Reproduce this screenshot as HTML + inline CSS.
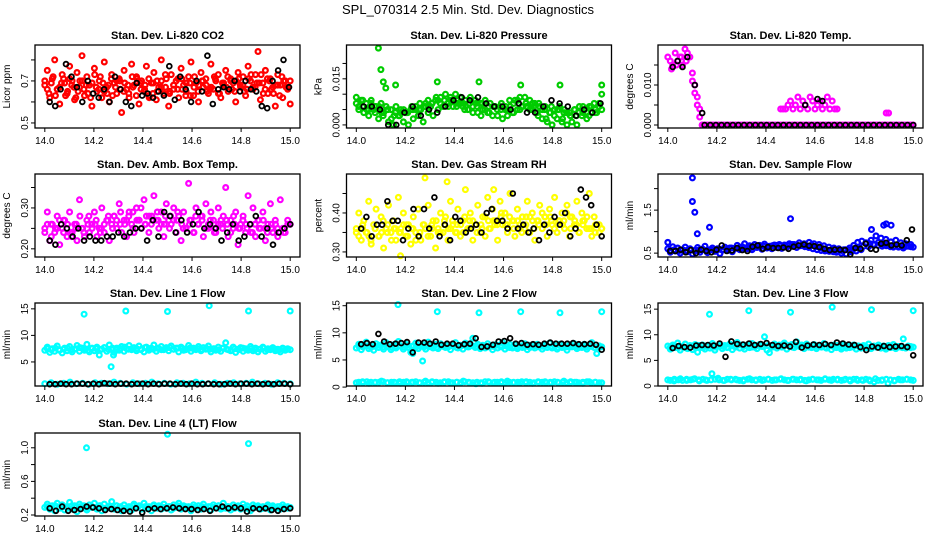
<!DOCTYPE html>
<html><head><meta charset="utf-8"><style>
body{margin:0;background:#fff}
svg{display:block;font-family:"Liberation Sans",sans-serif}
</style></head><body>
<svg id="chart" width="936" height="540" viewBox="0 0 936 540" xmlns="http://www.w3.org/2000/svg">
<rect width="936" height="540" fill="#fff"/>
<text x="468" y="14" text-anchor="middle" font-size="13">SPL_070314  2.5 Min. Std. Dev. Diagnostics</text>
</svg>
<script>
const xTicks=[14.0,14.2,14.4,14.6,14.8,15.0];
const xTickLabels=["14.0","14.2","14.4","14.6","14.8","15.0"];

const co2Red=[0.68,0.75,0.62,0.71,0.80,0.66,0.59,0.73,0.69,0.64,0.77,0.70,0.61,0.74,0.67,0.82,0.63,0.72,0.68,0.58,0.76,0.65,0.70,0.62,0.79,0.67,0.60,0.73,0.69,0.64,0.71,0.55,0.75,0.66,0.62,0.78,0.68,0.72,0.59,0.70,0.65,0.77,0.63,0.69,0.74,0.61,0.67,0.80,0.64,0.71,0.58,0.73,0.66,0.70,0.62,0.76,0.68,0.65,0.72,0.79,0.63,0.69,0.60,0.74,0.67,0.71,0.64,0.78,0.66,0.70,0.73,0.62,0.68,0.75,0.65,0.71,0.69,0.60,0.74,0.67,0.72,0.63,0.77,0.70,0.66,0.73,0.84,0.61,0.69,0.75,0.64,0.71,0.67,0.58,0.73,0.68,0.62,0.70,0.66,0.59];
const co2Red2=[0.70,0.64,0.72,0.66,0.69,0.63,0.71,0.67,0.65,0.70,0.68,0.62,0.73,0.66,0.69,0.64,0.71,0.67,0.70,0.65,0.68,0.72,0.63,0.69,0.66,0.71,0.64,0.70,0.67,0.73,0.65,0.68,0.71,0.66,0.69,0.63,0.72,0.68,0.70,0.65,0.67,0.71,0.64,0.69,0.72,0.66,0.70,0.68,0.65,0.71,0.67,0.69,0.73,0.66,0.70,0.64,0.68,0.72,0.67,0.70];
const co2Red3=[0.66,0.69,0.63,0.67,0.71,0.65,0.68,0.62,0.70,0.66,0.64,0.69,0.67,0.72,0.65,0.68,0.63,0.70,0.66,0.69,0.64,0.67,0.71,0.66,0.68,0.62,0.69,0.65,0.70,0.67,0.64,0.68,0.66,0.71,0.63,0.69,0.67,0.65,0.70,0.68,0.66,0.72,0.64,0.69,0.67,0.70,0.65,0.71,0.68,0.66,0.73,0.67,0.69,0.64,0.71,0.66,0.68,0.63,0.70,0.67];
const co2Black=[0.60,0.58,0.66,0.78,0.72,0.67,0.60,0.70,0.64,0.62,0.66,0.60,0.72,0.66,0.60,0.58,0.69,0.63,0.64,0.62,0.65,0.63,0.77,0.61,0.72,0.66,0.60,0.70,0.65,0.82,0.59,0.66,0.67,0.66,0.70,0.65,0.70,0.66,0.65,0.58,0.57,0.70,0.75,0.80,0.67];

const presGreen=[0.009,0.005,0.008,0.004,0.007,0.003,0.008,0.005,0.006,0.002,0.007,0.004,0.006,0.001,0.005,0.000,0.006,0.003,0.005,0.001,0.004,0.000,0.005,0.002,0.006,0.003,0.005,0.001,0.007,0.004,0.006,0.003,0.008,0.005,0.009,0.006,0.010,0.007,0.009,0.006,0.010,0.007,0.009,0.006,0.008,0.005,0.009,0.006,0.008,0.004,0.007,0.005,0.008,0.004,0.007,0.003,0.006,0.003,0.006,0.002,0.005,0.003,0.006,0.004,0.008,0.005,0.009,0.006,0.009,0.006,0.008,0.005,0.007,0.004,0.006,0.002,0.005,0.001,0.004,0.000,0.005,0.002,0.006,0.001,0.005,0.000,0.004,0.001,0.005,0.000,0.006,0.003,0.005,0.002,0.006,0.004,0.007,0.004,0.006,0.010];
const presGreen2=[0.007,0.006,0.005,0.006,0.004,0.005,0.003,0.004,0.004,0.005,0.005,0.006,0.007,0.008,0.008,0.008,0.008,0.007,0.007,0.007,0.007,0.006,0.006,0.005,0.005,0.004,0.005,0.006,0.007,0.007,0.006,0.006,0.005,0.004,0.003,0.003,0.004,0.003,0.004,0.005];
const presGreen3=[0.006,0.008,0.005,0.007,0.004,0.006,0.003,0.005,0.002,0.004,0.003,0.005,0.004,0.006,0.005,0.007,0.006,0.008,0.007,0.009,0.007,0.008,0.006,0.008,0.006,0.007,0.005,0.007,0.004,0.006,0.003,0.005,0.004,0.006,0.005,0.007,0.006,0.008,0.007,0.008,0.006,0.007,0.005,0.006,0.003,0.005,0.002,0.004,0.003,0.005,0.002,0.004,0.003,0.005,0.004,0.006,0.004,0.006,0.005,0.007];
const presOutX=[14.09,14.10,14.11,14.12,14.16,14.33,14.50,14.67,14.83,15.0];
const presOutY=[0.025,0.018,0.014,0.012,0.013,0.014,0.014,0.013,0.013,0.013];
const presBlack=[0.006,0.006,0.005,0.000,0.000,0.004,0.006,0.003,0.005,0.004,0.006,0.008,0.009,0.008,0.009,0.007,0.006,0.006,0.005,0.007,0.004,0.004,0.006,0.008,0.007,0.006,0.003,0.005,0.004,0.007];

const tempHiX=[14.00,14.01,14.02,14.03,14.04,14.05,14.06,14.07,14.08,14.09,14.10,14.10,14.11,14.11,14.12,14.12,14.13,14.13,14.14,14.015,14.035,14.055,14.075];
const tempHiY=[0.017,0.016,0.015,0.018,0.016,0.017,0.015,0.019,0.018,0.017,0.013,0.011,0.010,0.008,0.007,0.005,0.004,0.002,0.000,0.014,0.015,0.017,0.016];
const tempZero=[0,0,0,0,0,0,0,0,0,0,0,0,0,0,0,0,0,0,0,0,0,0,0,0,0,0,0,0,0,0,0,0,0,0,0,0,0,0,0,0,0,0,0,0,0,0,0,0,0,0,0,0,0,0,0,0,0,0,0,0,0,0,0,0,0,0,0,0,0,0,0,0,0,0,0,0,0,0,0,0,0,0,0,0,0,0,0,0,0,0];
const tempBump=[0.004,0.004,0.004,0.005,0.006,0.004,0.005,0.007,0.004,0.006,0.005,0.004,0.007,0.006,0.004,0.005,0.006,0.004,0.005,0.007,0.004,0.006,0.004,0.004];
const tempExtraX=[14.89,14.90];
const tempExtraY=[0.003,0.003];
const tempBlackX=[14.02,14.04,14.06,14.08,14.11,14.14,14.56,14.61,14.63];
const tempBlackY=[0.0145,0.016,0.0145,0.017,0.010,0.003,0.005,0.0065,0.006];
const tempBlack0=[0,0,0,0,0,0,0,0,0,0,0,0,0,0,0,0,0,0,0,0,0,0,0,0,0,0,0,0,0,0,0,0,0,0,0,0,0,0];

const ambMag=[0.25,0.29,0.22,0.26,0.24,0.28,0.21,0.25,0.27,0.23,0.29,0.24,0.26,0.22,0.32,0.25,0.23,0.27,0.24,0.26,0.29,0.23,0.25,0.30,0.24,0.27,0.22,0.26,0.28,0.25,0.31,0.24,0.27,0.23,0.29,0.26,0.24,0.30,0.27,0.25,0.32,0.28,0.24,0.26,0.33,0.27,0.25,0.29,0.23,0.31,0.27,0.26,0.30,0.24,0.28,0.22,0.29,0.25,0.36,0.27,0.24,0.30,0.26,0.28,0.23,0.31,0.25,0.29,0.27,0.24,0.30,0.26,0.28,0.35,0.23,0.27,0.25,0.29,0.21,0.26,0.28,0.24,0.33,0.26,0.30,0.23,0.27,0.25,0.29,0.22,0.26,0.31,0.24,0.27,0.23,0.32,0.25,0.24,0.27,0.26];
const ambMag2=[0.24,0.26,0.25,0.27,0.24,0.26,0.25,0.28,0.26,0.25,0.27,0.28,0.26,0.27,0.29,0.27,0.26,0.28,0.27,0.26,0.28,0.27,0.25,0.26,0.28,0.27,0.26,0.25,0.27,0.26,0.28,0.25,0.26,0.24,0.27,0.25,0.26,0.25,0.24,0.26];
const ambMag3=[0.26,0.23,0.25,0.27,0.24,0.26,0.23,0.25,0.28,0.24,0.26,0.25,0.27,0.24,0.26,0.28,0.25,0.27,0.29,0.26,0.28,0.25,0.27,0.30,0.26,0.28,0.27,0.29,0.26,0.28,0.25,0.27,0.29,0.26,0.25,0.27,0.24,0.26,0.28,0.25,0.27,0.24,0.26,0.25,0.27,0.24,0.26,0.25,0.27,0.25,0.24,0.26,0.25,0.27,0.24,0.25,0.26,0.24,0.25,0.26];
const ambBlack=[0.22,0.21,0.26,0.25,0.23,0.25,0.22,0.23,0.22,0.22,0.23,0.23,0.24,0.23,0.24,0.25,0.25,0.22,0.27,0.23,0.29,0.28,0.24,0.27,0.24,0.26,0.29,0.25,0.26,0.25,0.22,0.24,0.26,0.22,0.23,0.26,0.28,0.23,0.25,0.21,0.24,0.25,0.26];

const rhYel=[0.36,0.40,0.33,0.38,0.35,0.43,0.32,0.37,0.41,0.34,0.39,0.31,0.36,0.42,0.35,0.38,0.33,0.44,0.36,0.40,0.34,0.37,0.32,0.39,0.35,0.41,0.33,0.37,0.36,0.42,0.34,0.38,0.31,0.36,0.40,0.35,0.39,0.33,0.43,0.37,0.35,0.41,0.34,0.38,0.46,0.36,0.40,0.33,0.37,0.42,0.35,0.39,0.34,0.44,0.36,0.41,0.38,0.33,0.43,0.37,0.40,0.35,0.45,0.38,0.34,0.41,0.37,0.39,0.36,0.43,0.35,0.40,0.33,0.38,0.42,0.36,0.39,0.34,0.41,0.37,0.44,0.35,0.38,0.40,0.36,0.42,0.34,0.39,0.37,0.43,0.35,0.40,0.38,0.36,0.45,0.34,0.39,0.37,0.35,0.36];
const rhYel2=[0.35,0.36,0.34,0.36,0.35,0.37,0.36,0.35,0.37,0.36,0.34,0.36,0.37,0.35,0.38,0.36,0.37,0.35,0.38,0.37,0.36,0.38,0.37,0.39,0.37,0.38,0.36,0.39,0.38,0.37,0.39,0.38,0.37,0.38,0.39,0.37,0.38,0.36,0.37,0.36];
const rhYel3=[0.34,0.37,0.35,0.33,0.36,0.34,0.38,0.35,0.33,0.36,0.35,0.37,0.34,0.36,0.33,0.35,0.37,0.34,0.36,0.38,0.35,0.37,0.36,0.38,0.35,0.37,0.39,0.36,0.38,0.35,0.37,0.39,0.36,0.38,0.37,0.40,0.37,0.39,0.36,0.38,0.35,0.37,0.39,0.36,0.38,0.40,0.37,0.39,0.36,0.38,0.37,0.40,0.36,0.38,0.35,0.37,0.39,0.36,0.35,0.37];
const rhOutX=[14.28,14.37,14.56,14.18];
const rhOutY=[0.49,0.48,0.46,0.29];
const rhBlack=[0.36,0.39,0.34,0.37,0.37,0.43,0.38,0.38,0.33,0.36,0.41,0.34,0.41,0.36,0.44,0.34,0.37,0.33,0.39,0.38,0.35,0.36,0.37,0.35,0.40,0.41,0.38,0.38,0.36,0.45,0.36,0.37,0.35,0.36,0.33,0.37,0.35,0.39,0.37,0.40,0.34,0.36,0.46,0.44,0.42,0.37,0.34];

const flowBlue=[0.60,0.52,0.65,0.55,0.62,0.50,0.58,0.64,0.53,0.60,0.48,0.57,0.63,0.52,0.59,0.66,0.51,0.58,0.62,0.54,0.60,0.49,0.57,0.64,0.56,0.62,0.53,0.61,0.68,0.58,0.65,0.72,0.60,0.67,0.58,0.70,0.63,0.68,0.59,0.71,0.62,0.66,0.60,0.69,0.63,0.70,0.61,0.67,0.64,0.72,0.66,0.70,0.63,0.74,0.68,0.72,0.66,0.75,0.69,0.72,0.65,0.70,0.62,0.67,0.58,0.64,0.55,0.62,0.52,0.60,0.50,0.58,0.48,0.57,0.53,0.60,0.55,0.62,0.58,0.66,0.72,0.65,0.80,0.70,0.90,0.75,0.85,0.70,0.82,0.68,0.76,0.64,0.80,0.66,0.74,0.62,0.72,0.66,0.70,0.64];
const flowBlue2=[0.56,0.58,0.55,0.57,0.56,0.58,0.55,0.57,0.59,0.56,0.58,0.57,0.59,0.58,0.60,0.62,0.61,0.63,0.62,0.64,0.63,0.65,0.64,0.66,0.65,0.67,0.68,0.67,0.69,0.68,0.70,0.69,0.67,0.65,0.63,0.60,0.58,0.56,0.55,0.54,0.53,0.55,0.56,0.58,0.62,0.68,0.75,0.78,0.74,0.72,0.70,0.68,0.66,0.67,0.65,0.66,0.64,0.65,0.66,0.65];
const flowOutX=[14.10,14.10,14.11,14.12,14.17,14.50,14.83,14.88,14.89,14.91,14.00];
const flowOutY=[2.25,1.70,1.45,0.95,1.10,1.30,1.05,1.15,1.18,1.15,0.75];
const flowBlack=[0.55,0.55,0.58,0.52,0.57,0.50,0.58,0.55,0.52,0.58,0.68,0.55,0.56,0.62,0.57,0.55,0.65,0.68,0.60,0.64,0.62,0.62,0.63,0.60,0.65,0.68,0.70,0.67,0.66,0.64,0.60,0.57,0.58,0.58,0.57,0.47,0.62,0.60,0.72,0.60,0.58,0.72,0.74,0.68,0.70,0.68,0.80,1.05];

const l1Cyan=[7.2,7.8,6.8,7.5,7.0,8.0,7.3,6.7,7.6,7.1,7.9,6.9,7.4,8.1,7.0,7.6,7.2,8.3,6.9,7.5,7.1,7.8,6.3,7.4,7.7,7.0,8.2,7.3,6.8,7.6,7.2,7.9,7.0,7.5,8.1,7.3,7.7,7.1,8.0,7.4,6.9,7.8,7.2,7.6,8.2,7.0,7.5,7.9,7.3,7.7,7.1,8.0,7.4,7.6,6.9,7.8,7.2,7.5,8.1,7.0,7.6,7.3,7.9,7.1,7.7,7.4,8.0,6.9,7.5,7.2,7.8,7.0,7.6,8.6,7.3,7.1,7.8,6.8,7.4,7.7,7.0,7.5,7.2,7.9,7.1,7.6,6.9,7.4,7.8,7.0,7.5,7.3,7.7,7.1,7.4,6.9,7.6,7.2,7.5,7.3];
const l1Cyan2=[7.5,7.3,7.6,7.2,7.4,7.6,7.3,7.5,7.7,7.4,7.2,7.6,7.5,7.3,7.7,7.4,7.6,7.3,7.5,7.8,7.4,7.6,7.5,7.3,7.7,7.5,7.4,7.6,7.3,7.5,7.7,7.4,7.6,7.5,7.3,7.6,7.4,7.5,7.3,7.6,7.4,7.5,7.3,7.6,7.4,7.2,7.5,7.3,7.6,7.4,7.5,7.3,7.4,7.6,7.3,7.5,7.4,7.3,7.5,7.4];
const l1CyanLow=[0.9,1.1,0.8,1.0,1.2,0.9,1.0,0.8,1.1,1.0,0.9,1.2,1.0,0.8,1.1,0.9,1.0,1.2,0.9,1.0,0.8,1.1,1.0,0.9,1.2,1.0,0.9,1.1,0.8,1.0,1.1,0.9,1.0,1.2,0.9,1.0,0.8,1.1,1.0,0.9];
const l1OutX=[14.16,14.27,14.33,14.50,14.67,14.83,15.0,14.28];
const l1OutY=[14.0,4.1,14.6,14.5,15.6,14.6,14.6,6.3];
const l1Black=[0.8,0.8,0.9,0.8,0.8,0.9,0.9,0.8,0.9,0.8,1.0,0.9,0.8,0.9,0.9,0.8,0.9,0.9,0.8,0.9,0.8,0.9,0.9,0.8,0.9,0.8,0.9,0.8,0.8,0.9,0.8,0.8,0.8,0.9,0.8,0.9,0.9,0.8,0.9,0.8,0.9,0.8,0.9,0.9,0.8];

const l2Cyan=[7.2,7.9,6.9,7.6,8.3,7.1,7.5,6.8,8.0,7.3,7.7,7.0,8.2,7.4,6.9,7.8,7.2,8.4,7.5,7.0,7.9,7.3,6.4,7.6,8.1,7.1,7.5,7.8,7.0,8.3,7.4,7.2,7.9,7.1,8.0,7.5,7.3,7.8,6.9,7.6,8.2,7.2,7.7,7.0,8.1,7.4,7.6,9.0,7.3,7.9,7.1,7.7,7.2,8.0,7.5,6.9,7.8,7.2,7.6,8.2,7.0,7.5,7.8,7.2,7.9,7.1,7.6,7.3,8.0,6.9,7.7,7.4,7.2,7.9,7.5,7.0,7.8,7.3,8.1,7.2,7.6,7.0,7.9,7.3,7.5,6.8,7.8,7.4,8.0,7.1,7.6,7.3,7.9,7.0,7.5,8.2,7.3,6.2,7.6,7.4];
const l2Cyan2=[7.5,7.4,7.6,7.3,7.5,7.7,7.4,7.6,7.3,7.5,7.6,7.4,7.7,7.5,7.3,7.6,7.4,7.5,7.7,7.3,7.6,7.5,7.4,7.6,7.3,7.5,7.7,7.4,7.6,7.5,7.3,7.6,7.4,7.5,7.7,7.4,7.6,7.3,7.5,7.4,7.6,7.5,7.3,7.6,7.4,7.5,7.7,7.4,7.6,7.3,7.5,7.4,7.6,7.5,7.3,7.6,7.4,7.5,7.3,7.4];
const l2CyanLow=[0.8,1.0,0.7,0.9,1.1,0.8,0.9,0.7,1.0,0.9,0.8,1.1,0.9,0.7,1.0,0.8,0.9,1.1,0.8,0.6,0.7,1.0,0.9,0.8,1.1,0.9,0.8,1.0,0.7,0.9,1.0,0.8,0.9,1.1,0.8,0.9,0.7,1.0,0.9,0.8];
const l2CyanLow2=[0.9,0.8,1.0,0.9,0.8,0.9,1.0,0.8,0.9,0.8,1.0,0.9,0.8,0.9,1.0,0.8,0.9,0.8,1.0,0.9,0.8,0.9,1.0,0.8,0.9,0.8,1.0,0.9,0.8,0.9,0.8,1.0,0.9,0.8,0.9,1.0,0.8,0.9,0.8,0.9,1.0,0.8,0.9,0.8,1.0,0.9,0.8,0.9,1.0,0.8,0.9,0.8,1.0,0.9,0.8,0.9,1.0,0.8,0.9,0.8];
const l2OutX=[14.17,14.33,14.50,14.67,14.83,15.0,14.27,14.23];
const l2OutY=[15.2,13.9,13.7,13.9,13.7,13.9,4.8,6.2];
const l2Black=[7.9,8.1,7.9,9.8,8.4,7.9,8.0,8.1,8.3,6.4,8.2,8.2,8.0,8.4,7.8,8.0,8.0,7.7,7.9,8.0,9.0,7.4,7.5,7.8,8.4,8.5,9.0,8.0,8.1,7.8,7.9,7.8,8.0,8.2,8.0,8.0,8.0,8.1,7.9,7.9,8.0,7.8,6.9];

const l3Cyan=[7.8,7.2,8.0,7.5,8.4,7.0,7.6,8.2,7.3,7.9,7.1,8.1,6.6,7.5,8.0,7.2,7.8,7.4,8.3,7.0,7.7,8.1,7.3,7.9,7.6,8.2,7.1,7.8,8.5,7.4,7.9,7.2,8.0,7.5,8.3,7.6,7.3,8.1,7.7,9.6,7.0,6.5,7.8,8.2,7.4,8.0,7.6,8.4,7.2,7.9,8.1,7.5,8.6,7.7,8.0,7.3,8.2,7.8,7.5,8.1,7.3,7.9,7.6,8.3,7.4,7.8,7.1,8.0,7.5,7.7,7.2,8.1,7.4,7.9,7.6,8.0,7.2,7.8,7.4,7.9,7.5,8.2,7.3,7.7,7.6,8.0,7.4,7.8,7.2,7.9,7.5,8.1,7.3,7.7,7.6,9.2,7.4,7.8,7.5,7.6];
const l3Cyan2=[7.6,7.8,7.5,7.7,7.4,7.8,7.6,7.9,7.5,7.7,7.8,7.6,7.9,7.7,7.5,7.8,7.6,8.0,7.7,7.9,7.6,7.8,8.0,7.7,7.9,7.6,7.8,7.7,8.0,7.8,7.6,7.9,7.7,7.8,7.6,7.9,7.7,7.8,7.6,7.8,7.7,7.9,7.6,7.8,7.5,7.7,7.8,7.6,7.7,7.5,7.8,7.6,7.7,7.5,7.8,7.6,7.7,7.5,7.6,7.7];
const l3CyanLow=[1.2,1.0,1.4,1.1,1.3,1.0,1.2,2.4,1.5,1.1,1.3,1.2,1.0,1.4,1.2,1.1,1.3,1.2,1.4,1.1,1.3,1.2,1.0,1.3,1.2,1.4,1.1,1.3,1.2,1.0,1.3,1.1,1.2,1.4,1.1,0.5,1.0,1.2,1.3,1.1];
const l3CyanLow2=[1.1,1.3,1.2,1.1,1.3,1.2,1.4,1.2,1.3,1.1,1.2,1.3,1.2,1.1,1.3,1.2,1.3,1.1,1.2,1.3,1.2,1.1,1.3,1.2,1.3,1.1,1.2,1.3,1.2,1.1,1.3,1.2,1.3,1.1,1.2,1.3,1.2,1.1,1.3,1.2,1.3,1.2,1.1,1.3,1.2,1.3,1.1,1.2,1.3,1.0,0.8,1.1,1.2,1.3,1.2,1.1,1.3,1.2,1.3,1.2];
const l3OutX=[14.17,14.33,14.50,14.67,14.83,15.0];
const l3OutY=[14.0,14.7,14.4,15.4,14.9,14.7];
const l3Black=[7.4,7.8,7.6,7.5,7.9,8.0,8.0,7.9,8.3,5.7,8.7,8.2,8.1,8.3,8.0,8.2,8.4,8.0,7.8,7.9,7.7,8.6,7.5,7.9,8.1,8.0,8.2,8.0,8.5,8.3,8.1,8.0,7.6,7.0,7.7,7.5,7.8,7.6,7.7,7.8,7.6,6.0];

const l4Cyan=[0.29,0.33,0.27,0.31,0.25,0.34,0.28,0.32,0.26,0.30,0.35,0.27,0.31,0.24,0.33,0.28,0.30,0.26,0.32,0.29,0.34,0.27,0.31,0.25,0.33,0.28,0.30,0.36,0.27,0.31,0.29,0.25,0.32,0.28,0.30,0.26,0.33,0.29,0.31,0.27,0.34,0.28,0.30,0.25,0.32,0.29,0.31,0.27,0.33,0.28,0.30,0.26,0.32,0.29,0.34,0.27,0.31,0.28,0.30,0.25,0.32,0.29,0.31,0.27,0.33,0.28,0.30,0.26,0.32,0.29,0.31,0.27,0.34,0.28,0.30,0.26,0.32,0.29,0.31,0.27,0.33,0.28,0.30,0.25,0.32,0.29,0.31,0.27,0.30,0.28,0.32,0.26,0.31,0.29,0.30,0.27,0.32,0.28,0.30,0.29];
const l4Cyan2=[0.30,0.28,0.31,0.29,0.30,0.28,0.31,0.29,0.30,0.31,0.28,0.30,0.29,0.31,0.28,0.30,0.29,0.31,0.30,0.28,0.29,0.31,0.30,0.28,0.30,0.29,0.31,0.28,0.30,0.29,0.30,0.28,0.31,0.29,0.30,0.28,0.29,0.31,0.30,0.28,0.30,0.29,0.31,0.28,0.30,0.29,0.28,0.30,0.29,0.31,0.28,0.30,0.29,0.28,0.30,0.29,0.28,0.30,0.29,0.28];
const l4OutX=[14.17,14.50,14.83];
const l4OutY=[1.00,1.16,1.05];
const l4Black=[0.28,0.25,0.30,0.25,0.26,0.27,0.30,0.29,0.28,0.26,0.27,0.26,0.25,0.24,0.28,0.23,0.27,0.28,0.27,0.28,0.29,0.28,0.27,0.27,0.26,0.27,0.25,0.28,0.30,0.28,0.29,0.28,0.24,0.28,0.27,0.28,0.26,0.25,0.27,0.28];

const RED="#ff0000",GRN="#00cc00",MAG="#ff00ff",YEL="#ffff00",BLU="#0000ff",CYN="#00ffff",BLK="#000000";
const panels=[
 {name:"co2",title:"Stan. Dev. Li-820 CO2",ylab:"Licor ppm",col:0,row:0,ymin:0.476,ymax:0.871,yt:[0.5,0.6,0.7,0.8],yl:["0.5","","0.7",""],
  series:[{v:co2Red,c:RED},{v:co2Red2,c:RED},{v:co2Red3,c:RED,x0:14.01,x1:14.99},{v:co2Black,c:BLK,x0:14.02,x1:14.995}]},
 {name:"pressure",title:"Stan. Dev. Li-820 Pressure",ylab:"kPa",col:1,row:0,ymin:-0.001,ymax:0.026,yt:[0,0.005,0.010,0.015,0.020],yl:["0.000","","","0.015",""],
  series:[{v:presGreen,c:GRN},{v:presGreen2,c:GRN},{v:presGreen3,c:GRN,x0:14.01,x1:14.99},{x:presOutX,v:presOutY,c:GRN},{v:presBlack,c:BLK,x0:14.03,x1:14.995}]},
 {name:"temp",title:"Stan. Dev. Li-820 Temp.",ylab:"degrees C",col:2,row:0,ymin:-0.00075,ymax:0.020,yt:[0,0.005,0.010,0.015],yl:["0.000","","0.010",""],
  series:[{x:tempHiX,v:tempHiY,c:MAG},{v:tempZero,c:MAG,x0:14.14,x1:15.0},{v:tempBump,c:MAG,x0:14.46,x1:14.69},{x:tempExtraX,v:tempExtraY,c:MAG},{x:tempBlackX,v:tempBlackY,c:BLK},{v:tempBlack0,c:BLK,x0:14.15,x1:15.0}]},
 {name:"amb-box-temp",title:"Stan. Dev. Amb. Box Temp.",ylab:"degrees C",col:0,row:1,ymin:0.180,ymax:0.383,yt:[0.20,0.25,0.30,0.35],yl:["0.20","","0.30",""],
  series:[{v:ambMag,c:MAG},{v:ambMag2,c:MAG},{v:ambMag3,c:MAG,x0:14.01,x1:14.99},{v:ambBlack,c:BLK,x0:14.02,x1:15.0}]},
 {name:"gas-stream-rh",title:"Stan. Dev. Gas Stream RH",ylab:"percent",col:1,row:1,ymin:0.287,ymax:0.50,yt:[0.30,0.35,0.40,0.45],yl:["0.30","","0.40",""],
  series:[{v:rhYel,c:YEL},{v:rhYel2,c:YEL},{v:rhYel3,c:YEL,x0:14.01,x1:14.99},{x:rhOutX,v:rhOutY,c:YEL},{v:rhBlack,c:BLK,x0:14.02,x1:15.0}]},
 {name:"sample-flow",title:"Stan. Dev. Sample Flow",ylab:"ml/min",col:2,row:1,ymin:0.41,ymax:2.34,yt:[0.5,1.0,1.5,2.0],yl:["0.5","","1.5",""],
  series:[{v:flowBlue,c:BLU},{v:flowBlue2,c:BLU,x0:14.01,x1:14.99},{x:flowOutX,v:flowOutY,c:BLU},{v:flowBlack,c:BLK,x0:14.01,x1:14.995}]},
 {name:"line1-flow",title:"Stan. Dev. Line 1 Flow",ylab:"ml/min",col:0,row:2,ymin:0.47,ymax:16.1,yt:[5,10,15],yl:["5","10","15"],
  series:[{v:l1Cyan,c:CYN},{v:l1Cyan2,c:CYN,x0:14.01,x1:14.99},{v:l1CyanLow,c:CYN},{x:l1OutX,v:l1OutY,c:CYN},{v:l1Black,c:BLK,x0:14.02,x1:15.0}]},
 {name:"line2-flow",title:"Stan. Dev. Line 2 Flow",ylab:"ml/min",col:1,row:2,ymin:0.2,ymax:15.5,yt:[0,5,10,15],yl:["0","5","10","15"],
  series:[{v:l2Cyan,c:CYN},{v:l2Cyan2,c:CYN,x0:14.01,x1:14.99},{v:l2CyanLow,c:CYN},{v:l2CyanLow2,c:CYN,x0:14.01,x1:14.99},{x:l2OutX,v:l2OutY,c:CYN},{v:l2Black,c:BLK,x0:14.02,x1:15.0}]},
 {name:"line3-flow",title:"Stan. Dev. Line 3 Flow",ylab:"ml/min",col:2,row:2,ymin:0,ymax:16.2,yt:[0,5,10,15],yl:["0","5","10","15"],
  series:[{v:l3Cyan,c:CYN},{v:l3Cyan2,c:CYN,x0:14.01,x1:14.99},{v:l3CyanLow,c:CYN},{v:l3CyanLow2,c:CYN,x0:14.01,x1:14.99},{x:l3OutX,v:l3OutY,c:CYN},{v:l3Black,c:BLK,x0:14.02,x1:15.0}]},
 {name:"line4-flow",title:"Stan. Dev. Line 4 (LT) Flow",ylab:"ml/min",col:0,row:3,ymin:0.188,ymax:1.176,yt:[0.2,0.4,0.6,0.8,1.0],yl:["0.2","","0.6","","1.0"],
  series:[{v:l4Cyan,c:CYN},{v:l4Cyan2,c:CYN,x0:14.01,x1:14.99},{x:l4OutX,v:l4OutY,c:CYN},{v:l4Black,c:BLK,x0:14.02,x1:15.0}]}
];

const NS="http://www.w3.org/2000/svg";
const svg=document.getElementById('chart');
const W=265,H=83;
const colL=[35,346.5,658], rowT=[45,174,303,433];
function mk(tag,attrs,parent){const e=document.createElementNS(NS,tag);for(const k in attrs)e.setAttribute(k,attrs[k]);parent.appendChild(e);return e;}

panels.forEach(p=>{
  const L=colL[p.col],T=rowT[p.row];
  const xs=x=>L+(x-13.96)/1.08*W;
  const ys=v=>T+(p.ymax-v)/(p.ymax-p.ymin)*H;
  const g=mk('g',{},svg);
  
  
  const t=mk('text',{x:L+W/2,y:T-6,'text-anchor':'middle','font-size':'11','font-weight':'bold'},g);
  t.textContent=p.title;
  
  
  const pts=mk('g',{fill:'none'},g);
  
  
  p.series.forEach(s=>{
    const n=s.v.length;
    const sw=s.c===BLK?'1.8':'2.2';
    s.v.forEach((v,i)=>{
      let xv;
      if(s.x) xv=s.x[i];
      else {const a=s.x0!==undefined?s.x0:14.0,b=s.x1!==undefined?s.x1:15.0;xv=a+(b-a)*(n>1?i/(n-1):0);}
      const c=mk('circle',{cx:xs(xv).toFixed(1),cy:ys(v).toFixed(1),r:'2.4',stroke:s.c,'stroke-width':sw},pts);
      
      
    });
  });
  const box=mk('rect',{x:L,y:T,width:W,height:H,fill:'none',stroke:'#000','stroke-width':'1.3'},g);
  
  
  const xa=mk('g',{},g);
  
  
  mk('line',{x1:xs(14),x2:xs(15),y1:T+H,y2:T+H,stroke:'#000'},xa);
  xTicks.forEach((x,i)=>{
    mk('line',{x1:xs(x),x2:xs(x),y1:T+H,y2:T+H+4,stroke:'#000'},xa);
    const tl=mk('text',{x:xs(x),y:T+H+16,'text-anchor':'middle','font-size':'10'},xa);
    tl.textContent=xTickLabels[i];
    
    
  });
  const ya=mk('g',{},g);
  
  
  mk('line',{x1:L,x2:L,y1:ys(p.yt[0]),y2:ys(p.yt[p.yt.length-1]),stroke:'#000'},ya);
  p.yt.forEach((v,i)=>{
    const y=ys(v);
    mk('line',{x1:L-4,x2:L,y1:y,y2:y,stroke:'#000'},ya);
    if(p.yl[i]){
      const tl=mk('text',{x:L-7,y:y,'text-anchor':'middle','font-size':'10',transform:`rotate(-90 ${L-7} ${y})`},ya);
      tl.textContent=p.yl[i];
      
      
    }
  });
  const yl=mk('text',{x:L-25,y:T+H/2,'text-anchor':'middle','font-size':'10',transform:`rotate(-90 ${L-25} ${T+H/2})`},g);
  yl.textContent=p.ylab;
  
  
});
</script>
</body></html>
